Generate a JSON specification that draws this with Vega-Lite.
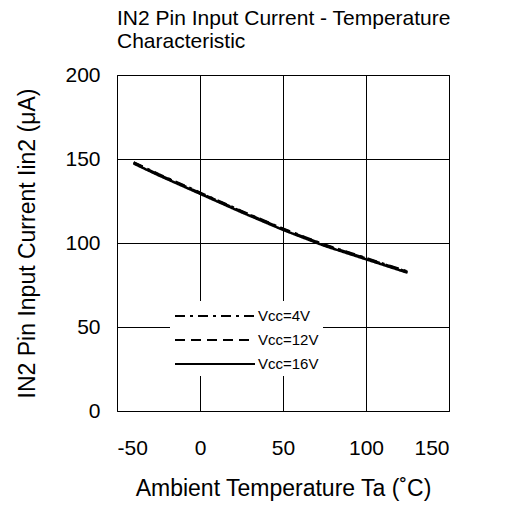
{
  "$schema": "https://vega.github.io/schema/vega-lite/v6.json",
  "autosize": "none",
  "width": 332,
  "height": 336,
  "padding": {"left": 117, "top": 75, "right": 77, "bottom": 97},
  "background": "white",
  "title": {
    "text": ["IN2 Pin Input Current - Temperature", "Characteristic"],
    "anchor": "start",
    "frame": "group",
    "font": "Liberation Sans",
    "fontSize": 21,
    "fontWeight": "normal",
    "color": "black",
    "lineHeight": 23,
    "offset": 12
  },
  "config": {
    "view": {"stroke": "black", "strokeWidth": 1},
    "axis": {
      "labelFont": "Liberation Sans",
      "titleFont": "Liberation Sans",
      "labelFontSize": 21,
      "titleFontSize": 23,
      "titleFontWeight": "normal",
      "labelColor": "black",
      "titleColor": "black",
      "domain": false,
      "ticks": false,
      "gridColor": "black",
      "gridOpacity": 1,
      "gridWidth": 1
    }
  },
  "data": {
    "values": [
      {"ta": -40, "i": 148.0, "vcc": "Vcc=4V"},
      {"ta": -25, "i": 141.0, "vcc": "Vcc=4V"},
      {"ta": 0, "i": 130.0, "vcc": "Vcc=4V"},
      {"ta": 25, "i": 119.0, "vcc": "Vcc=4V"},
      {"ta": 50, "i": 108.5, "vcc": "Vcc=4V"},
      {"ta": 75, "i": 99.0, "vcc": "Vcc=4V"},
      {"ta": 100, "i": 91.0, "vcc": "Vcc=4V"},
      {"ta": 125, "i": 83.0, "vcc": "Vcc=4V"},
      {"ta": -40, "i": 147.8, "vcc": "Vcc=12V"},
      {"ta": -25, "i": 140.8, "vcc": "Vcc=12V"},
      {"ta": 0, "i": 129.8, "vcc": "Vcc=12V"},
      {"ta": 25, "i": 118.8, "vcc": "Vcc=12V"},
      {"ta": 50, "i": 108.3, "vcc": "Vcc=12V"},
      {"ta": 75, "i": 98.8, "vcc": "Vcc=12V"},
      {"ta": 100, "i": 90.8, "vcc": "Vcc=12V"},
      {"ta": 125, "i": 82.8, "vcc": "Vcc=12V"},
      {"ta": -40, "i": 147.3, "vcc": "Vcc=16V"},
      {"ta": -25, "i": 140.3, "vcc": "Vcc=16V"},
      {"ta": 0, "i": 129.3, "vcc": "Vcc=16V"},
      {"ta": 25, "i": 118.3, "vcc": "Vcc=16V"},
      {"ta": 50, "i": 107.8, "vcc": "Vcc=16V"},
      {"ta": 75, "i": 98.3, "vcc": "Vcc=16V"},
      {"ta": 100, "i": 90.3, "vcc": "Vcc=16V"},
      {"ta": 125, "i": 82.3, "vcc": "Vcc=16V"}
    ]
  },
  "mark": {"type": "line", "color": "black", "strokeWidth": 2.5},
  "encoding": {
    "x": {
      "field": "ta",
      "type": "quantitative",
      "scale": {"domain": [-50, 150], "nice": false, "zero": false},
      "axis": {"values": [-50, 0, 50, 100, 150], "labelExpr": "'' + datum.value", "title": "Ambient Temperature Ta (˚C)", "labelPadding": 26, "titlePadding": 19}
    },
    "y": {
      "field": "i",
      "type": "quantitative",
      "scale": {"domain": [0, 200], "nice": false},
      "axis": {"values": [0, 50, 100, 150, 200], "title": "IN2 Pin Input Current Iin2 (μA)", "labelPadding": 17, "titlePadding": 25}
    },
    "strokeDash": {
      "field": "vcc",
      "type": "nominal",
      "scale": {"domain": ["Vcc=4V", "Vcc=12V", "Vcc=16V"], "range": [[10, 5, 3, 5], [10, 6], [1, 0]]},
      "legend": {
        "title": null,
        "orient": "none",
        "legendX": 53,
        "legendY": 226,
        "fillColor": "white",
        "padding": 4,
        "rowPadding": 5,
        "symbolType": "M-1,0H7",
        "symbolSize": 400,
        "symbolStrokeWidth": 2,
        "symbolStrokeColor": "black",
        "labelOffset": 62,
        "labelFont": "Liberation Sans",
        "labelFontSize": 15,
        "labelColor": "black"
      }
    }
  }
}
